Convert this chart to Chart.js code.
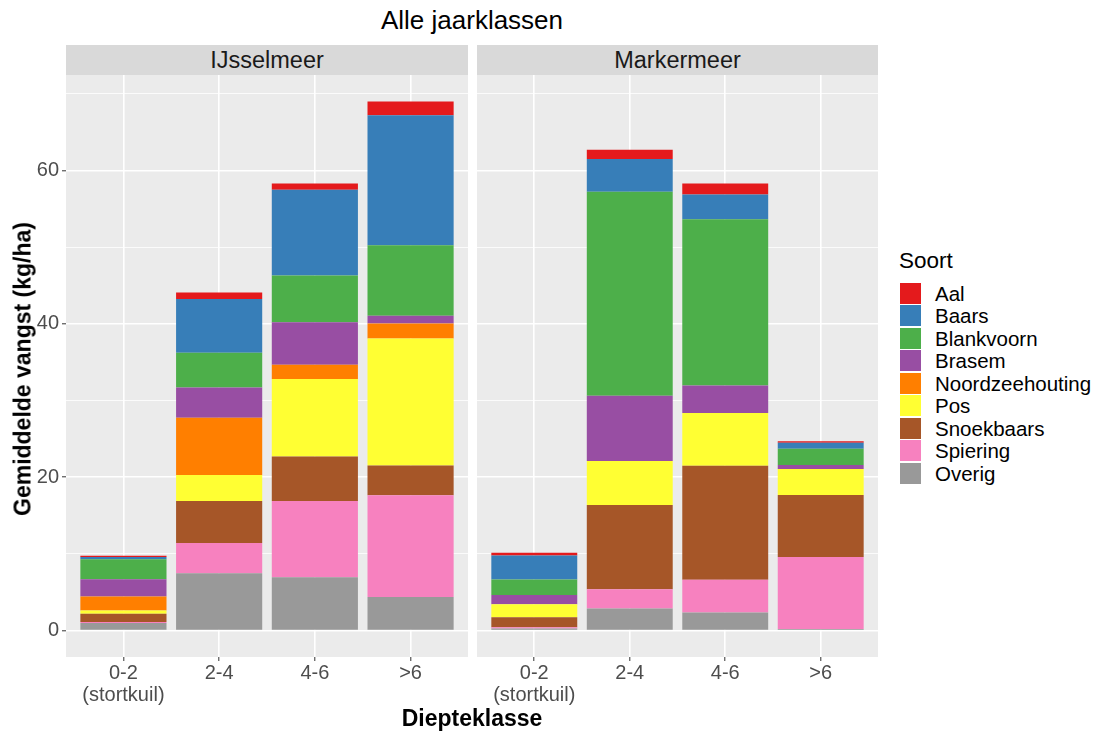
<!DOCTYPE html>
<html>
<head>
<meta charset="utf-8">
<script src="https://cdn.jsdelivr.net/npm/chart.js@4"></script>
<style>
  body { margin: 0; background: #fff; font-family: "Liberation Sans", Arial, sans-serif; }
  .abs { position: absolute; }
  .strip { background: #D9D9D9; color: #1A1A1A; font-size: 23.5px; text-align: center; height: 30px; line-height: 31px; }
  .legend-item { position: absolute; left: 900px; height: 21px; font-size: 20.5px; line-height: 21px; color: #000; white-space: nowrap; }
  .legend-item span.key { position: absolute; left: 0; top: 0; width: 21px; height: 21px; }
  .legend-item span.lab { position: absolute; left: 35px; top: 0; }
</style>
</head>
<body>
<div class="abs" style="left:66px;top:4px;width:812px;text-align:center;font-size:26px;line-height:32px;color:#000">Alle jaarklassen</div>
<div class="abs strip" id="strip0" style="left:66px;top:45px;width:402px"></div>
<div class="abs strip" id="strip1" style="left:477px;top:45px;width:401px"></div>
<canvas id="chartL" class="abs" style="left:0;top:75px" width="468" height="656"></canvas>
<canvas id="chartR" class="abs" style="left:477px;top:75px" width="401" height="656"></canvas>
<div class="abs" style="left:23px;top:369px;transform:translate(-50%,-50%) rotate(-90deg);font-size:23px;font-weight:bold;white-space:nowrap">Gemiddelde vangst (kg/ha)</div>
<div class="abs" style="left:66px;top:704px;width:812px;text-align:center;font-size:23px;line-height:28px;font-weight:bold">Diepteklasse</div>
<div id="legend"></div>
<script>
// facets and categories
const lakes = ['IJsselmeer', 'Markermeer'];
const depthClasses = [['0-2', '(stortkuil)'], '2-4', '4-6', '>6'];
const yMajorTicks = [0, 20, 40, 60];
const yMinorTicks = [10, 30, 50, 70];

// species (legend order, top of stack first)
const species = ['Aal', 'Baars', 'Blankvoorn', 'Brasem', 'Noordzeehouting', 'Pos', 'Snoekbaars', 'Spiering', 'Overig'];
const speciesColors = ['#E41A1C', '#377EB8', '#4DAF4A', '#984EA3', '#FF7F00', '#FFFF33', '#A65628', '#F781BF', '#999999'];

// values per species: [IJsselmeer, Markermeer], each per depth class
const aal             = [[0.17, 0.85, 0.8, 1.8],    [0.35, 1.2, 1.45, 0.2]];
const baars           = [[0.31, 7.03, 11.2, 16.95], [3.13, 4.26, 3.21, 0.8]];
const blankvoorn      = [[2.6, 4.52, 6.1, 9.2],     [2.0, 26.62, 21.68, 2.12]];
const brasem          = [[2.26, 3.95, 5.54, 1.0],   [1.22, 8.52, 3.6, 0.52]];
const noordzeehouting = [[1.83, 7.47, 1.83, 1.95],  [0, 0, 0, 0]];
const pos             = [[0.4, 3.38, 10.12, 16.56], [1.69, 5.73, 6.86, 3.38]];
const snoekbaars      = [[1.1, 5.48, 5.8, 3.91],    [1.3, 10.99, 14.86, 8.08]];
const spiering        = [[0.1, 3.95, 9.95, 13.24],  [0.18, 2.51, 4.29, 9.4]];
const overig          = [[1.0, 7.47, 6.95, 4.39],   [0.26, 2.87, 2.35, 0.2]];

const seriesBySpecies = [aal, baars, blankvoorn, brasem, noordzeehouting, pos, snoekbaars, spiering, overig];

const tickFont = { family: '"Liberation Sans", Arial, sans-serif', size: 20, lineHeight: 1.1 };
const allYTicks = yMajorTicks.concat(yMinorTicks).sort((a, b) => a - b);

function isMajor(v) {
    return yMajorTicks.indexOf(v) !== -1;
}

function noPadding(scale) {
    scale.paddingTop = 0;
    scale.paddingBottom = 0;
    scale.paddingLeft = 0;
    scale.paddingRight = 0;
}

function buildChart(canvasId, lakeIndex, showYLabels) {
    // stack from bottom (Overig) to top (Aal)
    const datasets = [];
    for (let s = species.length - 1; s >= 0; s--) {
        datasets.push({
            label: species[s],
            data: seriesBySpecies[s][lakeIndex].map((v, i) => ({ x: i + 1, y: v })),
            backgroundColor: speciesColors[s],
            borderWidth: 0,
            barPercentage: 1,
            categoryPercentage: 0.9
        });
    }

    const ctx = document.getElementById(canvasId).getContext('2d');
    return new Chart(ctx, {
        type: 'bar',
        data: { datasets: datasets },
        options: {
            responsive: false,
            animation: false,
            layout: { padding: 0 },
            plugins: {
                legend: { display: false },
                tooltip: { enabled: false }
            },
            scales: {
                x: {
                    type: 'linear',
                    stacked: true,
                    min: 0.4,
                    max: 4.6,
                    offset: false,
                    afterBuildTicks: scale => {
                        scale.ticks = depthClasses.map((c, i) => ({ value: i + 1 }));
                    },
                    afterFit: scale => {
                        scale.height = 74;
                        noPadding(scale);
                    },
                    ticks: {
                        autoSkip: false,
                        maxRotation: 0,
                        padding: 1,
                        color: '#4D4D4D',
                        font: tickFont,
                        callback: v => depthClasses[v - 1]
                    },
                    grid: {
                        offset: false,
                        color: '#FFFFFF',
                        lineWidth: 1.6,
                        drawTicks: true,
                        tickLength: 4,
                        tickColor: '#333333',
                        tickWidth: 1
                    },
                    border: { display: false }
                },
                y: {
                    stacked: true,
                    min: -3.45,
                    max: 72.45,
                    afterBuildTicks: scale => {
                        scale.ticks = allYTicks.map(v => ({ value: v }));
                    },
                    afterFit: scale => {
                        scale.width = showYLabels ? 66 : 0;
                        noPadding(scale);
                    },
                    ticks: {
                        display: showYLabels,
                        padding: 3,
                        color: '#4D4D4D',
                        font: tickFont,
                        callback: v => isMajor(v) ? String(v) : ''
                    },
                    grid: {
                        color: '#FFFFFF',
                        lineWidth: c => (c.tick && isMajor(c.tick.value)) ? 1.6 : 0.8,
                        drawTicks: showYLabels,
                        tickLength: 4,
                        tickColor: c => (c.tick && isMajor(c.tick.value)) ? '#333333' : 'rgba(0,0,0,0)',
                        tickWidth: 1
                    },
                    border: { display: false }
                }
            }
        },
        plugins: [{
            id: 'panelBackground',
            beforeDraw: chart => {
                const a = chart.chartArea;
                const c = chart.ctx;
                c.save();
                c.fillStyle = '#EBEBEB';
                c.fillRect(a.left, a.top, a.right - a.left, a.bottom - a.top);
                c.restore();
            }
        }]
    });
}

// Strip labels
document.getElementById('strip0').textContent = lakes[0];
document.getElementById('strip1').textContent = lakes[1];

buildChart('chartL', 0, true);
buildChart('chartR', 1, false);

// Legend
const legend = document.getElementById('legend');
const legendTitle = document.createElement('div');
legendTitle.textContent = 'Soort';
legendTitle.style.cssText = 'position:absolute;left:899px;top:248px;font-size:22.5px;line-height:26px;';
legend.appendChild(legendTitle);
species.forEach((name, i) => {
    const item = document.createElement('div');
    item.className = 'legend-item';
    item.style.top = (282.5 + i * 22.5) + 'px';
    item.innerHTML = `<span class="key" style="background:${speciesColors[i]}"></span><span class="lab">${name}</span>`;
    legend.appendChild(item);
});
</script>
</body>
</html>
